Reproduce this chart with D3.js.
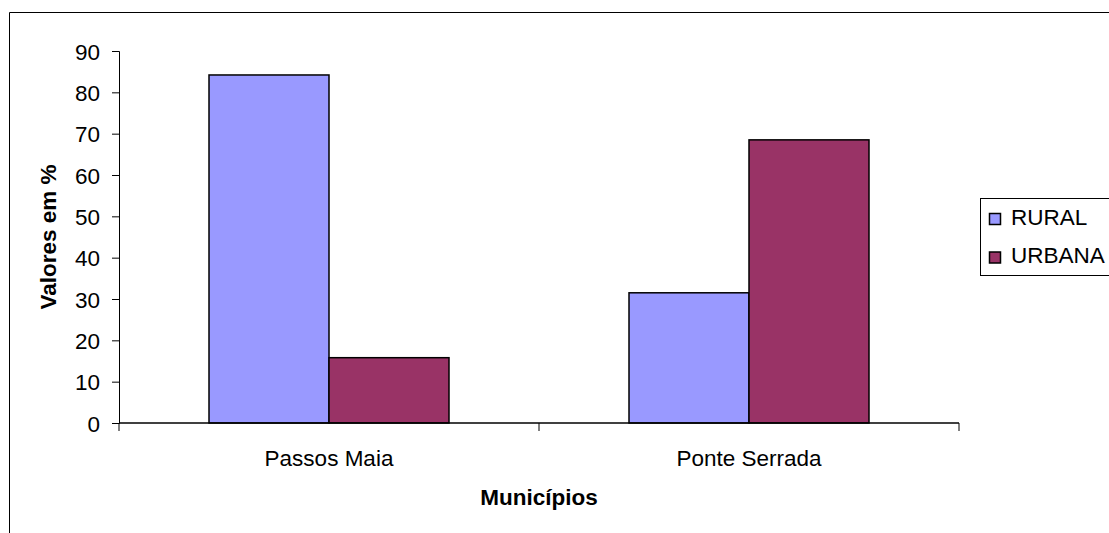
<!DOCTYPE html>
<html>
<head>
<meta charset="utf-8">
<script src="https://cdn.jsdelivr.net/npm/d3@7"></script>
<style>
  html, body { margin: 0; padding: 0; background: #fff; }
  svg { display: block; font-family: "Liberation Sans", Arial, sans-serif; }
</style>
</head>
<body>
<svg id="chart" width="1109" height="533"></svg>
<script>
// Population share by municipality (%)
const municipios = ["Passos Maia", "Ponte Serrada"];
const series = ["RURAL", "URBANA"];
const rural = [84.2, 31.5];
const urbana = [15.8, 68.5];
const yTicks = [0, 10, 20, 30, 40, 50, 60, 70, 80, 90];
const colors = ["#9999FF", "#993366"];

const FONT = 22.5;
const svg = d3.select("#chart");

// Outer frame
svg.append("path")
  .attr("d", "M9.5,533 V12.5 H1109")
  .attr("fill", "none").attr("stroke", "#000").attr("stroke-width", 1);

const plot = { left: 119, right: 959, top: 51, bottom: 423 };

const y = d3.scaleLinear().domain([0, 90]).range([plot.bottom, plot.top]);
const x0 = d3.scaleBand().domain(municipios).range([plot.left, plot.right]).padding(0);
const x1 = d3.scaleBand().domain(series).range([0, x0.bandwidth()])
  .paddingInner(0).paddingOuter(0.75);

const rows = municipios.map((m, i) => ({ m, vals: [rural[i], urbana[i]] }));

// Bars
const groups = svg.selectAll("g.grp").data(rows).join("g")
  .attr("class", "grp")
  .attr("transform", d => `translate(${x0(d.m)},0)`);
groups.selectAll("rect").data(d => d.vals.map((v, j) => ({ s: series[j], v, j })))
  .join("rect")
  .attr("x", d => x1(d.s))
  .attr("y", d => y(d.v))
  .attr("width", x1.bandwidth())
  .attr("height", d => y(0) - y(d.v))
  .attr("fill", d => colors[d.j])
  .attr("stroke", "#000").attr("stroke-width", 1.5);

// Y axis
const yAxis = svg.append("g")
  .attr("transform", `translate(${plot.left},0)`)
  .call(d3.axisLeft(y).tickValues(yTicks).tickSize(7).tickPadding(12));
yAxis.select(".domain").attr("stroke", "#000");
yAxis.selectAll(".tick line").attr("stroke", "#000");
yAxis.selectAll(".tick text")
  .attr("font-size", FONT).attr("fill", "#000")
  .attr("dy", "0.36em")
  .attr("font-family", "'Liberation Sans', Arial, sans-serif");

// X axis: baseline, boundary ticks, and category labels
svg.append("line")
  .attr("x1", plot.left).attr("x2", plot.right)
  .attr("y1", y(0)).attr("y2", y(0))
  .attr("stroke", "#000").attr("stroke-width", 1.5);
const bounds = [plot.left].concat(municipios.map(m => x0(m) + x0.bandwidth()));
svg.selectAll("line.xt").data(bounds).join("line")
  .attr("class", "xt")
  .attr("x1", d => d).attr("x2", d => d)
  .attr("y1", y(0)).attr("y2", y(0) + 8)
  .attr("stroke", "#000").attr("stroke-width", 1);
svg.selectAll("text.cat").data(municipios).join("text")
  .attr("class", "cat")
  .attr("x", d => x0(d) + x0.bandwidth() / 2)
  .attr("y", 466)
  .attr("text-anchor", "middle")
  .attr("font-size", FONT)
  .text(d => d);

// Axis titles
svg.append("text")
  .attr("x", (plot.left + plot.right) / 2).attr("y", 505)
  .attr("text-anchor", "middle")
  .attr("font-size", FONT).attr("font-weight", "bold")
  .text("Municípios");
svg.append("text")
  .attr("transform", "translate(56,237) rotate(-90)")
  .attr("text-anchor", "middle")
  .attr("font-size", FONT).attr("font-weight", "bold")
  .text("Valores em %");

// Legend
const legend = svg.append("g");
legend.append("rect")
  .attr("x", 980.5).attr("y", 198.5)
  .attr("width", 140).attr("height", 77)
  .attr("fill", "#fff").attr("stroke", "#000").attr("stroke-width", 1);
const items = legend.selectAll("g.item").data(series).join("g")
  .attr("class", "item")
  .attr("transform", (d, i) => `translate(0,${i * 38.5})`);
items.append("rect")
  .attr("x", 989.5).attr("y", 213.5)
  .attr("width", 11).attr("height", 11)
  .attr("fill", (d, i) => colors[i])
  .attr("stroke", "#000").attr("stroke-width", 1.5);
items.append("text")
  .attr("x", 1011).attr("y", 224.5)
  .attr("font-size", FONT)
  .text(d => d);
</script>
</body>
</html>
